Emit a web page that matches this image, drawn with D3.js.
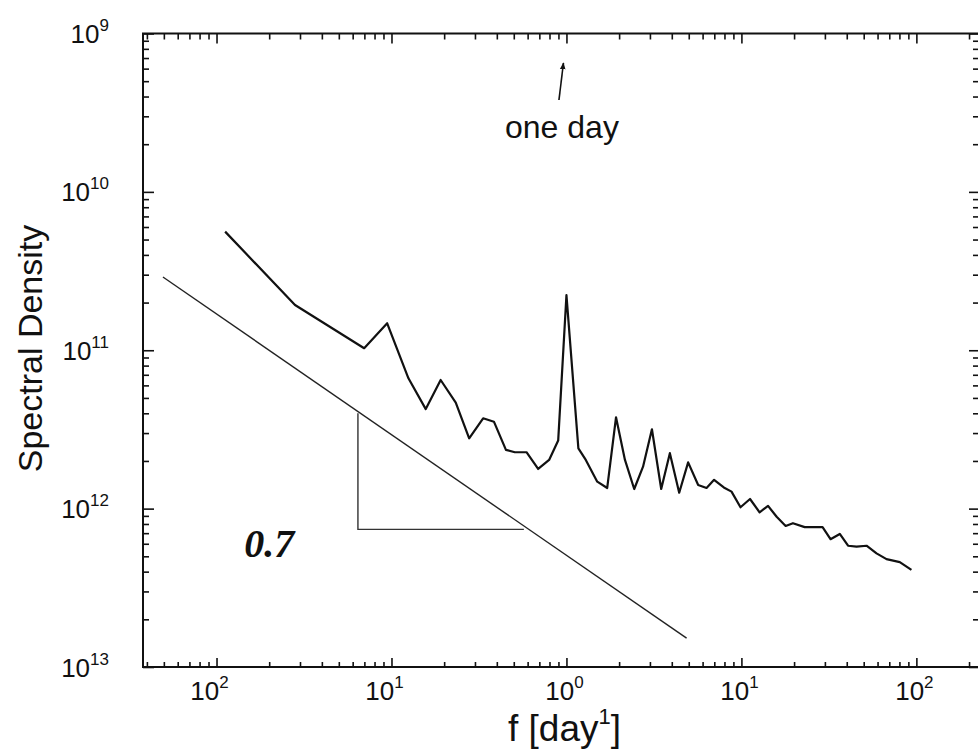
<!DOCTYPE html>
<html>
<head>
<meta charset="utf-8">
<script src="https://cdn.jsdelivr.net/npm/d3@7"></script>
<style>
  body { margin: 0; background: #fff; }
  svg { display: block; }
  text { font-family: "Liberation Sans", Arial, Helvetica, sans-serif; fill: #111; }
  text.slope { font-family: "Liberation Serif", "Times New Roman", serif; font-style: italic; font-weight: bold; }
</style>
</head>
<body>
<svg id="chart" width="978" height="751"></svg>
<script>
// Spectral density of the series, frequency in day^-1
const freq = [0.0112, 0.0281, 0.0698, 0.0945, 0.125, 0.157, 0.191, 0.233, 0.278, 0.334,
  0.385, 0.451, 0.507, 0.591, 0.689, 0.796, 0.897, 1.0, 1.17, 1.29,
  1.50, 1.71, 1.92, 2.16, 2.44, 2.74, 3.08, 3.48, 3.90, 4.41,
  4.96, 5.66, 6.32, 6.98, 7.93, 8.78, 9.88, 11.2, 12.7, 14.2,
  15.9, 17.9, 19.7, 23.0, 26.3, 29.1, 32.3, 36.5, 40.7, 45.5,
  51.9, 59.2, 67.5, 80.4, 93.7];
const density = [5.61e-11, 1.93e-11, 1.03e-11, 1.48e-11, 6.65e-12, 4.25e-12, 6.49e-12, 4.67e-12, 2.78e-12, 3.72e-12,
  3.54e-12, 2.35e-12, 2.27e-12, 2.27e-12, 1.78e-12, 2.03e-12, 2.69e-12, 2.23e-11, 2.40e-12, 2.03e-12,
  1.48e-12, 1.35e-12, 3.77e-12, 2.03e-12, 1.33e-12, 1.84e-12, 3.17e-12, 1.33e-12, 2.24e-12, 1.26e-12,
  1.96e-12, 1.41e-12, 1.35e-12, 1.52e-12, 1.36e-12, 1.28e-12, 1.02e-12, 1.15e-12, 9.48e-13, 1.04e-12,
  8.89e-13, 7.77e-13, 8.09e-13, 7.64e-13, 7.64e-13, 7.64e-13, 6.41e-13, 6.92e-13, 5.83e-13, 5.75e-13,
  5.83e-13, 5.22e-13, 4.80e-13, 4.59e-13, 4.10e-13];

// Power-law guide line and its slope triangle
const guideFreq = [0.00494, 4.86];
const guideDensity = [2.90e-11, 1.52e-13];
const triangleFreq = [0.0643, 0.0643, 0.571];
const triangleDensity = [4.0e-12, 7.4e-13, 7.4e-13];
const slopeLabel = "0.7";
const slopeLabelAt = [0.0144, 4.95e-13];

// Daily cycle marker
const dayFreq = 1;
const dayLabel = "one day";

// Axis decades (tick labels show the exponent digits)
const xDecades = [-2, -1, 0, 1, 2];
const yDecades = [-9, -10, -11, -12, -13];
const xTitle = "f [day";
const xTitleSup = "1";
const yTitle = "Spectral Density";

const svg = d3.select("#chart");
const plotLeft = 143, plotRight = 979, plotTop = 33.5, plotBottom = 667;

const x = d3.scaleLog().domain([0.0038, 228]).range([plotLeft, plotRight]);
const y = d3.scaleLog().domain([1e-13, 1e-9]).range([plotBottom, plotTop]);

// minor tick positions (2..9 within each decade)
function minors(lo, hi, dom) {
  const out = [];
  for (let k = lo; k <= hi; k++)
    for (let m = 2; m <= 9; m++) {
      const v = m * Math.pow(10, k);
      if (v >= dom[0] && v <= dom[1]) out.push(v);
    }
  return out;
}
const xMajor = xDecades.map(e => Math.pow(10, e));
const yMajor = yDecades.map(e => Math.pow(10, e));
const xMinor = minors(-3, 2, x.domain());
const yMinor = minors(-14, -10, y.domain());

function tickAxis(axis, transform) {
  const g = svg.append("g").attr("transform", transform).call(axis);
  g.select(".domain").remove();
  g.selectAll(".tick text").remove();
  g.selectAll(".tick line").attr("stroke", "#111").attr("stroke-width", 1.6);
  return g;
}

// ticks point inward on all four sides
tickAxis(d3.axisBottom(x).tickValues(xMajor).tickSize(-9), `translate(0,${plotBottom})`);
tickAxis(d3.axisBottom(x).tickValues(xMinor).tickSize(-5), `translate(0,${plotBottom})`);
tickAxis(d3.axisTop(x).tickValues(xMajor).tickSize(-10), `translate(0,${plotTop})`);
tickAxis(d3.axisTop(x).tickValues(xMinor).tickSize(-6), `translate(0,${plotTop})`);
tickAxis(d3.axisLeft(y).tickValues(yMajor).tickSize(-11), `translate(${plotLeft},0)`);
tickAxis(d3.axisLeft(y).tickValues(yMinor).tickSize(-6), `translate(${plotLeft},0)`);
tickAxis(d3.axisRight(y).tickValues(yMajor).tickSize(-10), `translate(${plotRight},0)`);
tickAxis(d3.axisRight(y).tickValues(yMinor).tickSize(-6), `translate(${plotRight},0)`);

// frame
svg.append("rect")
  .attr("x", plotLeft).attr("y", plotTop)
  .attr("width", plotRight - plotLeft).attr("height", plotBottom - plotTop)
  .attr("fill", "none").attr("stroke", "#111").attr("stroke-width", 2);

// x tick labels: 10 with superscript exponent digits
const xl = svg.append("g").selectAll("text").data(xDecades).join("text")
  .attr("x", e => x(Math.pow(10, e)) + (e < 0 ? -7 : -2))
  .attr("y", plotBottom + 33)
  .attr("text-anchor", "middle")
  .attr("font-size", 26);
xl.append("tspan").text("10");
xl.append("tspan").attr("font-size", 17).attr("dy", -12).text(e => Math.abs(e));

// y tick labels
const yl = svg.append("g").selectAll("text").data(yDecades).join("text")
  .attr("x", 109)
  .attr("y", e => y(Math.pow(10, e)) + 9.5)
  .attr("text-anchor", "end")
  .attr("font-size", 26);
yl.append("tspan").text("10");
yl.append("tspan").attr("font-size", 17).attr("dy", -12).text(e => Math.abs(e));

// axis titles
const xt = svg.append("text")
  .attr("x", 508).attr("y", 741)
  .attr("font-size", 37);
xt.append("tspan").text(xTitle);
xt.append("tspan").attr("font-size", 22).attr("dy", -17).text(xTitleSup);
xt.append("tspan").attr("dy", 17).text("]");

svg.append("text")
  .attr("transform", `translate(42,${(225 + 472) / 2}) rotate(-90)`)
  .attr("text-anchor", "middle")
  .attr("font-size", 34)
  .text(yTitle);

// spectrum
const series = freq.map((f, i) => ({ f, s: density[i] }));
const line = d3.line().x(d => x(d.f)).y(d => y(d.s));
svg.append("path")
  .datum(series)
  .attr("d", line)
  .attr("fill", "none")
  .attr("stroke", "#111")
  .attr("stroke-width", 2.2)
  .attr("stroke-linejoin", "round");

// guide line with slope triangle
svg.append("path")
  .datum(guideFreq.map((f, i) => ({ f, s: guideDensity[i] })))
  .attr("d", line)
  .attr("fill", "none").attr("stroke", "#222").attr("stroke-width", 1.4);
svg.append("path")
  .datum(triangleFreq.map((f, i) => ({ f, s: triangleDensity[i] })))
  .attr("d", line)
  .attr("fill", "none").attr("stroke", "#333").attr("stroke-width", 1.4);

svg.append("text")
  .attr("class", "slope")
  .attr("x", x(slopeLabelAt[0])).attr("y", y(slopeLabelAt[1]))
  .attr("font-size", 40)
  .text(slopeLabel);

// "one day" arrow
const defs = svg.append("defs");
defs.append("marker")
  .attr("id", "head").attr("viewBox", "0 0 10 10")
  .attr("refX", 9).attr("refY", 5)
  .attr("markerWidth", 7).attr("markerHeight", 7)
  .attr("markerUnits", "userSpaceOnUse")
  .attr("orient", "auto")
  .append("path").attr("d", "M0,1 L10,5 L0,9 Z").attr("fill", "#111");

const ax = x(dayFreq);
svg.append("line")
  .attr("x1", ax - 7.5).attr("y1", 100)
  .attr("x2", ax - 3).attr("y2", 63)
  .attr("stroke", "#111").attr("stroke-width", 1.6)
  .attr("marker-end", "url(#head)");

svg.append("text")
  .attr("x", ax - 4.5).attr("y", 138)
  .attr("text-anchor", "middle")
  .attr("font-size", 32)
  .text(dayLabel);
</script>
</body>
</html>
